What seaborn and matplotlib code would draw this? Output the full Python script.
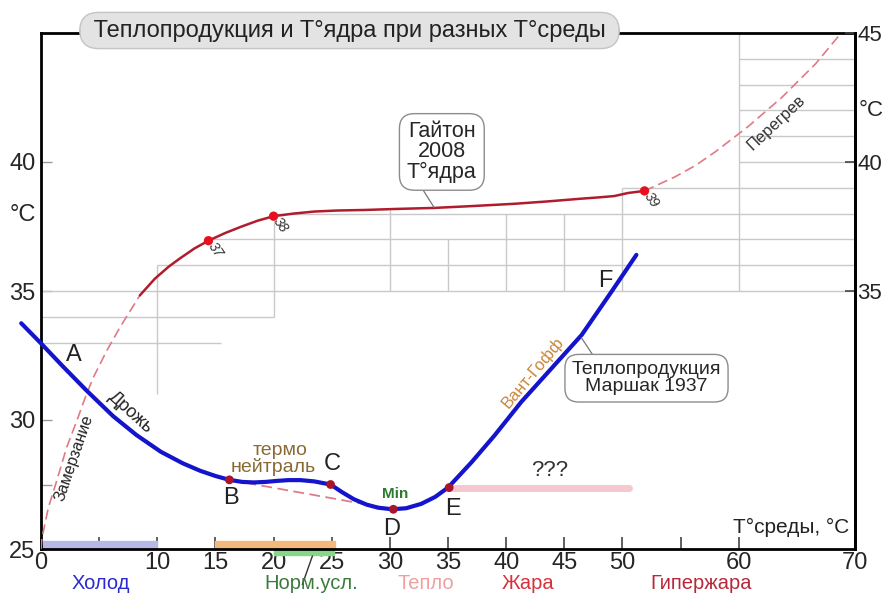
import numpy as np
import pandas as pd
import seaborn as sns
import matplotlib.pyplot as plt
from matplotlib.patches import Rectangle

# ---- values ----
# heat production curve (Маршак 1937)
marshak_t = [-1.7, 0.0, 1.9, 3.9, 6.2, 8.2, 10.3, 12.2, 13.7, 15.0, 16.2, 17.3, 18.3,
             19.3, 20.3, 21.3, 22.3, 23.5, 24.9, 25.9, 26.9, 28.0, 29.0, 30.2, 31.4,
             32.7, 33.9, 35.0, 37.0, 39.0, 41.3, 43.5, 46.5, 49.1, 51.2]
marshak_q = [33.75, 32.97, 32.07, 31.15, 30.15, 29.42, 28.77, 28.32, 28.03, 27.83, 27.68, 27.6, 27.58,
             27.6, 27.64, 27.67, 27.67, 27.62, 27.5, 27.2, 26.93, 26.72, 26.6, 26.54, 26.58,
             26.75, 27.02, 27.38, 28.35, 29.4, 30.7, 31.8, 33.3, 35.0, 36.4]

# core temperature (Гайтон 2008)
gayton_t = [8.5, 9.8, 11.0, 12.0, 13.2, 14.4, 15.8, 17.2, 18.6, 20.0, 21.7, 23.5, 25.5,
            27.8, 30.5, 33.8, 37.0, 40.7, 43.5, 46.5, 48.0, 49.3, 50.5, 51.9]
gayton_v = [34.83, 35.48, 35.95, 36.28, 36.65, 36.95, 37.24, 37.49, 37.72, 37.9, 38.0, 38.08, 38.12,
            38.14, 38.18, 38.22, 38.29, 38.38, 38.47, 38.58, 38.63, 38.68, 38.8, 38.88]

# dashed parts: freezing and overheating
freeze_t = [0.0, 0.06, 0.63, 1.35, 2.2, 3.08, 3.8, 4.5, 5.66, 6.8, 8.5]
freeze_v = [25.0, 25.37, 26.6, 27.64, 28.93, 29.97, 30.87, 31.65, 32.69, 33.6, 34.83]
heat_t = [51.9, 54.5, 56.3, 58.0, 60.8, 63.7, 66.6, 68.9]
heat_v = [38.88, 39.42, 39.87, 40.4, 41.37, 42.5, 43.8, 45.05]

# marked core points
core_t = [14.4, 20.0, 51.9]
core_v = [36.95, 37.9, 38.88]
core_lbl = ['37', '38', '39']

# key points on heat production curve
key_t = [16.2, 24.9, 30.3, 35.1]
key_v = [27.68, 27.5, 26.54, 27.38]
key_lbl = ['B', 'C', 'D', 'E']
key_lbl_x = [16.3, 25.06, 30.17, 35.4]
key_lbl_y = [26.99, 28.29, 25.77, 26.55]

# B -> D straight dashed line and the "???" band
bd_t = [16.2, 30.3]
bd_v = [27.68, 26.54]
unk_t = [35.0, 50.6]
unk_v = [27.36, 27.36]

# step-like grid: (y, x0, x1) and (x, y0, y1)
hgrid = [(33, 0, 15.5), (34, 0, 20), (35, 0, 70), (36, 10, 70), (37, 14.4, 70),
         (38, 20, 70), (39, 50, 70), (40, 60, 70), (41, 60, 70), (42, 60, 70),
         (43, 60, 70), (44, 60, 70)]
vgrid = [(10, 31, 36), (20, 34, 38), (30, 35, 38.15), (35, 35, 37), (40, 35, 38),
         (45, 35, 38), (50, 35, 39), (60, 35, 45)]

# environment zones along the x axis
zones = ['Холод', 'Норм.усл.', 'Тепло', 'Жара', 'Гипержара']
zone_x = [5.1, 23.2, 33.1, 41.9, 56.8]
zone_col = ['#2a2ad0', '#3c7a3c', '#eea0a0', '#d8303c', '#b8283a']
band_x0 = [0, 15, 20]
band_x1 = [10, 25.3, 25.2]
band_col = ['#b8b8e8', '#f3b97c', '#86d886']

xticks = [0, 5, 10, 15, 20, 25, 30, 35, 40, 45, 50, 55, 60, 70]
xtick_lbl = ['0', '', '10', '15', '20', '25', '30', '35', '40', '45', '50', '', '60', '70']
yticks_left = [25, 27.5, 30, 35, 40]
ytick_left_lbl = ['25', '', '30', '35', '40']
yticks_right = [35, 40, 45]

sns.set_theme(style='white')
plt.rcParams['font.family'] = ['Liberation Sans', 'DejaVu Sans']

fig = plt.figure(figsize=(8.85, 5.95), dpi=100)
ax = fig.add_axes([41 / 885, 46 / 595, 814 / 885, 516 / 595])
ax.set_xlim(0, 70)
ax.set_ylim(25, 45)

grid_c = '#c9c9c9'
for y, x0, x1 in hgrid:
    ax.hlines(y, x0, x1, color=grid_c, lw=1, zorder=1)
for x, y0, y1 in vgrid:
    ax.vlines(x, y0, y1, color=grid_c, lw=1, zorder=1)

# bands at the bottom
for x0, x1, c in zip(band_x0, band_x1, band_col):
    if c == '#86d886':
        ax.add_patch(Rectangle((x0, 24.76), x1 - x0, 0.24, color=c, clip_on=False, zorder=2))
    else:
        ax.add_patch(Rectangle((x0, 25.0), x1 - x0, 0.31, color=c, clip_on=False, zorder=2))

# curves
sns.lineplot(x=unk_t, y=unk_v, ax=ax, color='#f4c8ce', lw=5, sort=False, estimator=None,
             solid_capstyle='round', zorder=2)
sns.lineplot(x=bd_t, y=bd_v, ax=ax, color='#e07a8c', lw=1.3, sort=False, estimator=None,
             linestyle=(0, (6, 3)), zorder=3)
sns.lineplot(x=freeze_t, y=freeze_v, ax=ax, color='#e07a86', lw=1.2, sort=False, estimator=None,
             linestyle=(0, (6, 3)), zorder=3)
sns.lineplot(x=heat_t, y=heat_v, ax=ax, color='#e07a86', lw=1.2, sort=False, estimator=None,
             linestyle=(0, (6, 3)), zorder=3)
sns.lineplot(x=gayton_t, y=gayton_v, ax=ax, color='#b01c2c', lw=1.8, sort=False, estimator=None,
             zorder=4)
sns.lineplot(x=marshak_t, y=marshak_q, ax=ax, color='#1414cc', lw=3, sort=False, estimator=None,
             zorder=5)
ax.lines[-1].set_clip_on(False)

sns.scatterplot(x=core_t, y=core_v, ax=ax, color='#e8101e', s=45, edgecolor='none', zorder=6)
sns.scatterplot(x=key_t, y=key_v, ax=ax, color='#a8142a', s=40, edgecolor='none', zorder=6)

for t, v, s in zip(core_t, core_v, core_lbl):
    ax.text(t + 0.6, v - 0.35, s, fontsize=10, style='italic', rotation=-55,
            ha='center', va='center', color='#333333', zorder=7)
for x, y, s in zip(key_lbl_x, key_lbl_y, key_lbl):
    ax.text(x, y, s, fontsize=17, ha='center', va='center', color='#222222', zorder=7)

ax.text(2.86, 32.53, 'A', fontsize=17, ha='center', va='center', color='#222222')
ax.text(48.5, 35.4, 'F', fontsize=17, ha='center', va='center', color='#222222')
ax.text(30.43, 27.12, 'Min', fontsize=11, fontweight='bold', ha='center', va='center',
        color='#2e7a2e')
ax.text(20.6, 28.8, 'термо', fontsize=14, ha='center', va='center', color='#8a6a34')
ax.text(20.0, 28.16, 'нейтраль', fontsize=14, ha='center', va='center', color='#8a6a34')
ax.text(7.67, 30.3, 'Дрожь', fontsize=13, rotation=-42, ha='center', va='center',
        color='#222222')
ax.text(2.85, 28.52, 'Замерзание', fontsize=11.5, rotation=71, ha='center', va='center',
        color='#222222')
ax.text(42.3, 31.83, 'Вант-Гофф', fontsize=12, rotation=50, ha='center', va='center',
        color='#c8873a')
ax.text(63.2, 41.54, 'Перегрев', fontsize=12, rotation=43, ha='center', va='center',
        color='#333333')
ax.text(43.7, 28.03, '???', fontsize=16, ha='center', va='center', color='#333333')
ax.text(64.5, 25.85, 'T°среды, °C', fontsize=15, ha='center', va='center', color='#222222')

# annotation boxes with leader lines
box = dict(boxstyle='round,pad=0.35,rounding_size=0.7', fc='white', ec='#8c8c8c', lw=1)
ax.text(34.47, 40.39, 'Гайтон\n2008\nT°ядра', fontsize=15.5, ha='center', va='center',
        linespacing=0.95, bbox=box, zorder=8)
ax.plot([32.5, 33.8], [39.17, 38.24], color='#777777', lw=0.9, zorder=7)
ax.text(52.07, 31.62, 'Теплопродукция\nМаршак 1937', fontsize=14, ha='center', va='center',
        linespacing=1.0, bbox=box, zorder=8)
ax.plot([46.47, 47.6], [33.19, 32.42], color='#777777', lw=0.9, zorder=7)

# zone labels under the axis
for x, s, c in zip(zone_x, zones, zone_col):
    ax.text(x, 23.66, s, fontsize=14.5, ha='center', va='center', color=c, clip_on=False)
ax.plot([22.47, 23.34], [23.62, 24.73], color='#333333', lw=1, clip_on=False)

# axes styling
for sp in ax.spines.values():
    sp.set_color('black')
    sp.set_linewidth(2)
ax.set_xticks(xticks)
ax.set_xticklabels(xtick_lbl)
ax.set_yticks(yticks_left)
ax.set_yticklabels(ytick_left_lbl)
ax.tick_params(axis='x', direction='in', length=9, width=1.2, color='#444444', pad=2,
               labelsize=17, bottom=True)
ax.tick_params(axis='y', direction='in', length=8, width=1, color='#999999', pad=4,
               labelsize=17, left=True)
ax.set_xlabel('')
ax.set_ylabel('')

ax2 = ax.twinx()
ax2.set_ylim(25, 45)
ax2.set_yticks(yticks_right)
ax2.tick_params(axis='y', direction='in', length=7, width=1.2, color='#444444', pad=1.5,
                labelsize=16, right=True)
for name, sp in ax2.spines.items():
    sp.set_visible(name == 'right')
    sp.set_color('black')
    sp.set_linewidth(2)

fig.text(23 / 885, 1 - 215 / 595, '°C', fontsize=17, ha='center', va='center')
fig.text(871 / 885, 1 - 110 / 595, '°C', fontsize=16, ha='center', va='center')

fig.text(349.5 / 885, 1 - 30.5 / 595, ' Теплопродукция и T°ядра при разных T°среды ',
         fontsize=17, ha='center', va='center', color='#222222', zorder=10,
         bbox=dict(boxstyle='round,pad=0.3,rounding_size=0.8', fc='#e3e3e3', ec='#c4c4c4', lw=1))

fig.savefig('out.png', dpi=100)
